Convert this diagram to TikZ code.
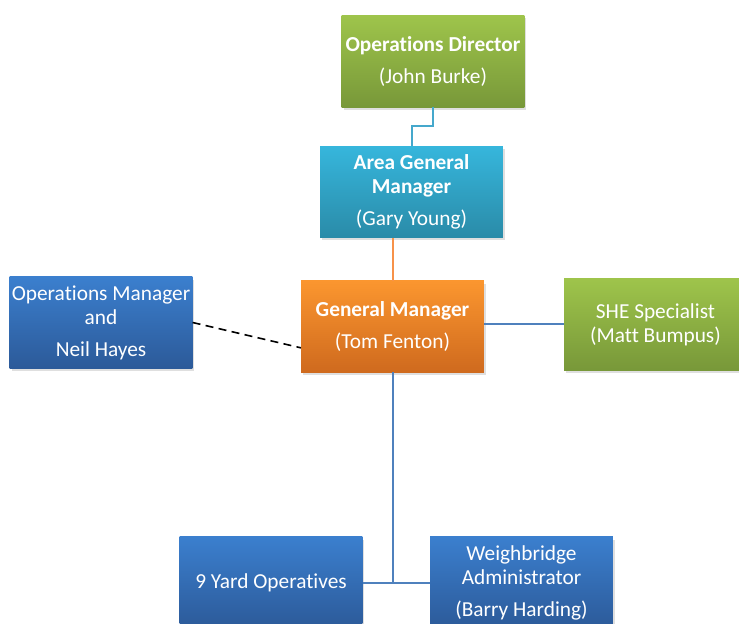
\documentclass[tikz,border=0pt]{standalone}
\usepackage{fontspec}
\setmainfont{Carlito}[Ligatures=NoCommon]
\usetikzlibrary{shadows}
\definecolor{greentop}{HTML}{9EC44B}
\definecolor{greenbot}{HTML}{789839}
\definecolor{tealtop}{HTML}{36B6DC}
\definecolor{tealbot}{HTML}{2A8BA8}
\definecolor{orangetop}{HTML}{FB962F}
\definecolor{orangebot}{HTML}{CF6A1E}
\definecolor{bluetop}{HTML}{3B7FCE}
\definecolor{bluebot}{HTML}{2C5A99}
\definecolor{tealline}{HTML}{45A8CC}
\definecolor{orangeline}{HTML}{F7924A}
\definecolor{blueline}{HTML}{4F81BD}

\begin{document}
\begin{tikzpicture}
[x=0.75pt,y=-0.75pt,
box/.style={rectangle, minimum width=137pt, minimum height=68.5pt,
inner sep=0pt, align=center, text=white,
font=\fontsize{16}{18}\selectfont,
drop shadow={shadow xshift=1.5pt,shadow yshift=-2pt,opacity=0.25}},
greenbox/.style={box, top color=greentop, bottom color=greenbot},
tealbox/.style={box, top color=tealtop, bottom color=tealbot},
orangebox/.style={box, top color=orangetop, bottom color=orangebot},
bluebox/.style={box, top color=bluetop, bottom color=bluebot},
link/.style={line width=1.5pt}]
\useasboundingbox (0,0) rectangle (739,624);

\node (od) at (433,61.5) [greenbox] {\textbf{Operations Director}\\[6pt](John Burke)};
\node (agm) at (411.5,192) [tealbox] {\textbf{Area General}\\\textbf{Manager}\\[6pt](Gary Young)};
\node (gm) at (392.5,326.5) [orangebox] {\textbf{General Manager}\\[6pt](Tom Fenton)};
\node (om) at (101,322.5) [bluebox] {Operations Manager\\and\\[6pt]Neil Hayes};
\node (she) at (655.5,324.5) [greenbox] {SHE Specialist\\(Matt Bumpus)};
\node (yard) at (271,582.5) [bluebox] {9 Yard Operatives};
\node (wb) at (521.5,582.5) [bluebox] {Weighbridge\\Administrator\\[6pt](Barry Harding)};

\draw[link,tealline] (od.south) -- ++(0,19) -| (agm.north);
\draw[link,orangeline] (gm.north) -- (gm.north |- agm.south);
\draw[link,blueline] ([yshift=2pt]gm.east) -- ([yshift=2pt]gm.east -| she.west);
\draw[line width=1.2pt,dash pattern=on 6pt off 4pt] (om.east) -- ([yshift=-16pt]gm.west);
\draw[link,blueline] (gm.south) -- (gm.south |- yard.east);
\draw[link,blueline] (yard.east) -- (wb.west);

\end{tikzpicture}
\end{document}
